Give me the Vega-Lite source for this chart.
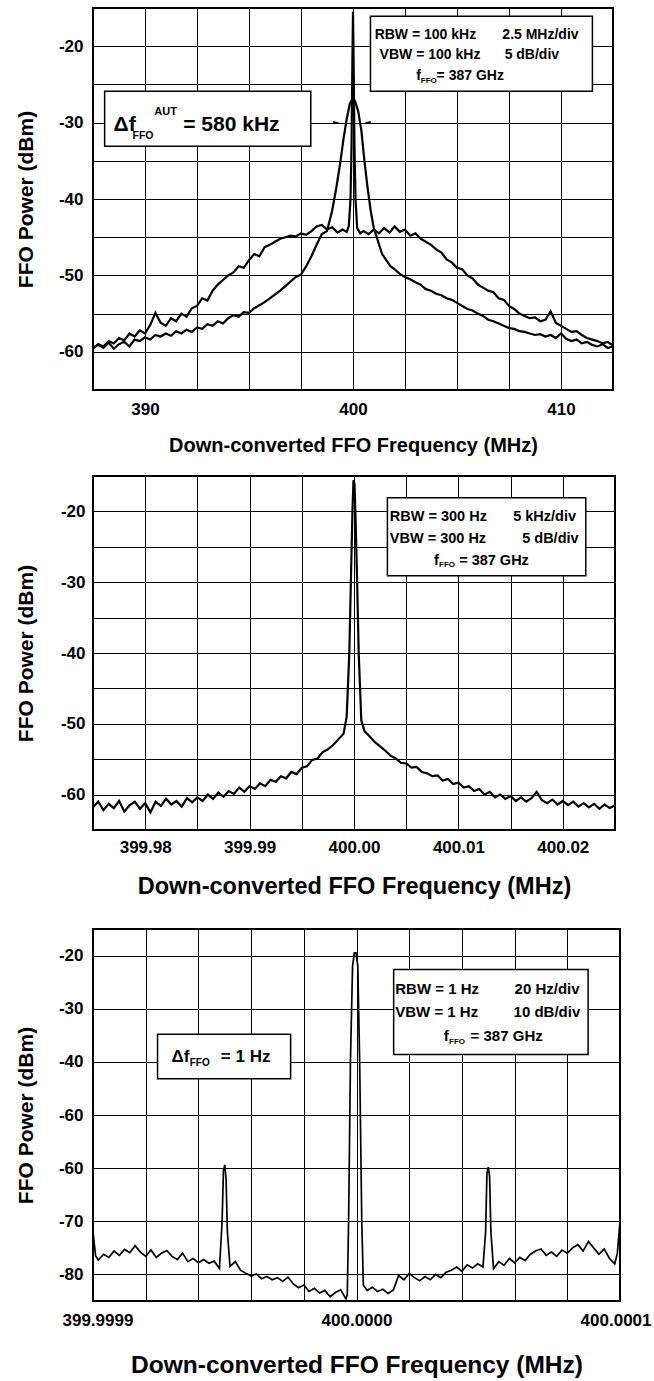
{
  "$schema": "https://vega.github.io/schema/vega-lite/v6.json",
  "background": "white",
  "padding": {"left": 14, "top": 7, "right": 0, "bottom": 0},
  "config": {
    "font": "Liberation Sans",
    "view": {"stroke": "black", "strokeWidth": 2},
    "axis": {"domain": false, "ticks": false, "grid": true, "gridColor": "#000", "gridOpacity": 1, "gridWidth": 1,
      "labelFont": "Liberation Sans", "labelFontWeight": "bold", "labelColor": "#000", "labelFontSize": 17,
      "titleFont": "Liberation Sans", "titleFontWeight": "bold", "titleColor": "#000"},
    "text": {"font": "Liberation Sans", "fontWeight": "bold", "color": "#000", "align": "left", "baseline": "alphabetic"}
  },
  "datasets": {
    "p1": [
      {"f": 387.5, "p": -59.6, "trace": "A"}, {"f": 387.75, "p": -59.0, "trace": "A"}, {"f": 388.0, "p": -59.3, "trace": "A"}, {"f": 388.25, "p": -58.6, "trace": "A"}, {"f": 388.5, "p": -58.9, "trace": "A"}, {"f": 388.75, "p": -58.2, "trace": "A"}, {"f": 389.0, "p": -58.5, "trace": "A"}, {"f": 389.25, "p": -57.6, "trace": "A"}, {"f": 389.5, "p": -58.0, "trace": "A"}, {"f": 389.75, "p": -57.2, "trace": "A"}, {"f": 390.0, "p": -57.6, "trace": "A"}, {"f": 390.25, "p": -56.5, "trace": "A"}, {"f": 390.5, "p": -54.9, "trace": "A"}, {"f": 390.75, "p": -56.2, "trace": "A"}, {"f": 391.0, "p": -56.6, "trace": "A"}, {"f": 391.25, "p": -55.6, "trace": "A"}, {"f": 391.5, "p": -56.0, "trace": "A"}, {"f": 391.75, "p": -55.0, "trace": "A"}, {"f": 392.0, "p": -55.4, "trace": "A"}, {"f": 392.25, "p": -54.3, "trace": "A"}, {"f": 392.5, "p": -54.0, "trace": "A"}, {"f": 392.75, "p": -53.0, "trace": "A"}, {"f": 393.0, "p": -53.3, "trace": "A"}, {"f": 393.25, "p": -52.0, "trace": "A"}, {"f": 393.5, "p": -51.2, "trace": "A"}, {"f": 393.75, "p": -50.6, "trace": "A"}, {"f": 394.0, "p": -50.0, "trace": "A"}, {"f": 394.25, "p": -49.6, "trace": "A"}, {"f": 394.5, "p": -48.8, "trace": "A"}, {"f": 394.75, "p": -49.0, "trace": "A"}, {"f": 395.0, "p": -48.0, "trace": "A"}, {"f": 395.25, "p": -47.2, "trace": "A"}, {"f": 395.5, "p": -47.5, "trace": "A"}, {"f": 395.75, "p": -46.3, "trace": "A"}, {"f": 396.0, "p": -46.0, "trace": "A"}, {"f": 396.25, "p": -45.6, "trace": "A"}, {"f": 396.5, "p": -45.2, "trace": "A"}, {"f": 396.75, "p": -45.0, "trace": "A"}, {"f": 397.0, "p": -44.8, "trace": "A"}, {"f": 397.25, "p": -44.9, "trace": "A"}, {"f": 397.5, "p": -44.5, "trace": "A"}, {"f": 397.75, "p": -44.7, "trace": "A"}, {"f": 398.0, "p": -44.2, "trace": "A"}, {"f": 398.25, "p": -43.6, "trace": "A"}, {"f": 398.5, "p": -43.4, "trace": "A"}, {"f": 398.75, "p": -44.0, "trace": "A"}, {"f": 399.0, "p": -43.7, "trace": "A"}, {"f": 399.25, "p": -44.4, "trace": "A"}, {"f": 399.5, "p": -44.0, "trace": "A"}, {"f": 399.7, "p": -44.3, "trace": "A"}, {"f": 399.8, "p": -43.5, "trace": "A"}, {"f": 399.88, "p": -40.0, "trace": "A"}, {"f": 399.93, "p": -33.0, "trace": "A"}, {"f": 399.97, "p": -22.0, "trace": "A"}, {"f": 400.0, "p": -15.5, "trace": "A"}, {"f": 400.03, "p": -22.0, "trace": "A"}, {"f": 400.07, "p": -33.0, "trace": "A"}, {"f": 400.12, "p": -40.0, "trace": "A"}, {"f": 400.2, "p": -43.8, "trace": "A"}, {"f": 400.35, "p": -44.5, "trace": "A"}, {"f": 400.5, "p": -44.2, "trace": "A"}, {"f": 400.75, "p": -44.6, "trace": "A"}, {"f": 401.0, "p": -44.0, "trace": "A"}, {"f": 401.25, "p": -44.5, "trace": "A"}, {"f": 401.5, "p": -43.8, "trace": "A"}, {"f": 401.75, "p": -44.4, "trace": "A"}, {"f": 402.0, "p": -43.6, "trace": "A"}, {"f": 402.25, "p": -44.3, "trace": "A"}, {"f": 402.5, "p": -44.0, "trace": "A"}, {"f": 402.75, "p": -44.8, "trace": "A"}, {"f": 403.0, "p": -44.5, "trace": "A"}, {"f": 403.25, "p": -45.2, "trace": "A"}, {"f": 403.5, "p": -45.6, "trace": "A"}, {"f": 403.75, "p": -46.0, "trace": "A"}, {"f": 404.0, "p": -46.6, "trace": "A"}, {"f": 404.25, "p": -47.0, "trace": "A"}, {"f": 404.5, "p": -47.9, "trace": "A"}, {"f": 404.75, "p": -48.3, "trace": "A"}, {"f": 405.0, "p": -49.0, "trace": "A"}, {"f": 405.25, "p": -49.2, "trace": "A"}, {"f": 405.5, "p": -50.0, "trace": "A"}, {"f": 405.75, "p": -50.4, "trace": "A"}, {"f": 406.0, "p": -51.2, "trace": "A"}, {"f": 406.25, "p": -51.6, "trace": "A"}, {"f": 406.5, "p": -52.0, "trace": "A"}, {"f": 406.75, "p": -52.2, "trace": "A"}, {"f": 407.0, "p": -53.0, "trace": "A"}, {"f": 407.25, "p": -53.2, "trace": "A"}, {"f": 407.5, "p": -54.0, "trace": "A"}, {"f": 407.75, "p": -54.4, "trace": "A"}, {"f": 408.0, "p": -55.0, "trace": "A"}, {"f": 408.25, "p": -55.3, "trace": "A"}, {"f": 408.5, "p": -55.6, "trace": "A"}, {"f": 408.75, "p": -55.5, "trace": "A"}, {"f": 409.0, "p": -56.0, "trace": "A"}, {"f": 409.25, "p": -55.8, "trace": "A"}, {"f": 409.5, "p": -54.7, "trace": "A"}, {"f": 409.75, "p": -56.2, "trace": "A"}, {"f": 410.0, "p": -56.6, "trace": "A"}, {"f": 410.25, "p": -57.0, "trace": "A"}, {"f": 410.5, "p": -57.4, "trace": "A"}, {"f": 410.75, "p": -57.3, "trace": "A"}, {"f": 411.0, "p": -57.8, "trace": "A"}, {"f": 411.25, "p": -58.2, "trace": "A"}, {"f": 411.5, "p": -58.4, "trace": "A"}, {"f": 411.75, "p": -58.6, "trace": "A"}, {"f": 412.0, "p": -58.9, "trace": "A"}, {"f": 412.25, "p": -58.7, "trace": "A"}, {"f": 412.5, "p": -59.2, "trace": "A"},
      {"f": 387.5, "p": -59.4, "trace": "B"}, {"f": 387.75, "p": -59.1, "trace": "B"}, {"f": 388.0, "p": -59.5, "trace": "B"}, {"f": 388.25, "p": -58.8, "trace": "B"}, {"f": 388.5, "p": -59.6, "trace": "B"}, {"f": 388.75, "p": -59.0, "trace": "B"}, {"f": 389.0, "p": -58.7, "trace": "B"}, {"f": 389.25, "p": -59.3, "trace": "B"}, {"f": 389.5, "p": -58.4, "trace": "B"}, {"f": 389.75, "p": -58.6, "trace": "B"}, {"f": 390.0, "p": -58.1, "trace": "B"}, {"f": 390.25, "p": -58.4, "trace": "B"}, {"f": 390.5, "p": -57.8, "trace": "B"}, {"f": 390.75, "p": -58.0, "trace": "B"}, {"f": 391.0, "p": -57.6, "trace": "B"}, {"f": 391.25, "p": -57.9, "trace": "B"}, {"f": 391.5, "p": -57.3, "trace": "B"}, {"f": 391.75, "p": -57.6, "trace": "B"}, {"f": 392.0, "p": -57.1, "trace": "B"}, {"f": 392.25, "p": -57.4, "trace": "B"}, {"f": 392.5, "p": -56.8, "trace": "B"}, {"f": 392.75, "p": -57.0, "trace": "B"}, {"f": 393.0, "p": -56.4, "trace": "B"}, {"f": 393.25, "p": -56.6, "trace": "B"}, {"f": 393.5, "p": -56.0, "trace": "B"}, {"f": 393.75, "p": -56.3, "trace": "B"}, {"f": 394.0, "p": -55.6, "trace": "B"}, {"f": 394.25, "p": -55.2, "trace": "B"}, {"f": 394.5, "p": -55.4, "trace": "B"}, {"f": 394.75, "p": -54.8, "trace": "B"}, {"f": 395.0, "p": -54.9, "trace": "B"}, {"f": 395.25, "p": -54.3, "trace": "B"}, {"f": 395.5, "p": -53.9, "trace": "B"}, {"f": 395.75, "p": -53.5, "trace": "B"}, {"f": 396.0, "p": -53.0, "trace": "B"}, {"f": 396.25, "p": -52.5, "trace": "B"}, {"f": 396.5, "p": -52.0, "trace": "B"}, {"f": 396.75, "p": -51.4, "trace": "B"}, {"f": 397.0, "p": -50.8, "trace": "B"}, {"f": 397.25, "p": -50.2, "trace": "B"}, {"f": 397.5, "p": -49.9, "trace": "B"}, {"f": 397.75, "p": -48.8, "trace": "B"}, {"f": 398.0, "p": -47.5, "trace": "B"}, {"f": 398.25, "p": -46.0, "trace": "B"}, {"f": 398.5, "p": -44.6, "trace": "B"}, {"f": 398.75, "p": -44.2, "trace": "B"}, {"f": 399.0, "p": -41.5, "trace": "B"}, {"f": 399.2, "p": -38.5, "trace": "B"}, {"f": 399.4, "p": -35.0, "trace": "B"}, {"f": 399.55, "p": -32.0, "trace": "B"}, {"f": 399.7, "p": -29.5, "trace": "B"}, {"f": 399.85, "p": -27.5, "trace": "B"}, {"f": 400.0, "p": -26.8, "trace": "B"}, {"f": 400.1, "p": -27.2, "trace": "B"}, {"f": 400.25, "p": -28.5, "trace": "B"}, {"f": 400.4, "p": -31.0, "trace": "B"}, {"f": 400.55, "p": -35.0, "trace": "B"}, {"f": 400.7, "p": -38.5, "trace": "B"}, {"f": 400.85, "p": -41.5, "trace": "B"}, {"f": 401.0, "p": -43.8, "trace": "B"}, {"f": 401.2, "p": -45.5, "trace": "B"}, {"f": 401.4, "p": -47.2, "trace": "B"}, {"f": 401.6, "p": -48.0, "trace": "B"}, {"f": 401.8, "p": -48.8, "trace": "B"}, {"f": 402.0, "p": -49.2, "trace": "B"}, {"f": 402.25, "p": -49.8, "trace": "B"}, {"f": 402.5, "p": -50.2, "trace": "B"}, {"f": 402.75, "p": -50.5, "trace": "B"}, {"f": 403.0, "p": -50.9, "trace": "B"}, {"f": 403.25, "p": -51.2, "trace": "B"}, {"f": 403.5, "p": -51.8, "trace": "B"}, {"f": 403.75, "p": -52.0, "trace": "B"}, {"f": 404.0, "p": -52.4, "trace": "B"}, {"f": 404.25, "p": -52.6, "trace": "B"}, {"f": 404.5, "p": -53.0, "trace": "B"}, {"f": 404.75, "p": -53.2, "trace": "B"}, {"f": 405.0, "p": -53.6, "trace": "B"}, {"f": 405.25, "p": -54.0, "trace": "B"}, {"f": 405.5, "p": -54.4, "trace": "B"}, {"f": 405.75, "p": -54.6, "trace": "B"}, {"f": 406.0, "p": -55.0, "trace": "B"}, {"f": 406.25, "p": -55.3, "trace": "B"}, {"f": 406.5, "p": -55.8, "trace": "B"}, {"f": 406.75, "p": -56.0, "trace": "B"}, {"f": 407.0, "p": -56.3, "trace": "B"}, {"f": 407.25, "p": -56.6, "trace": "B"}, {"f": 407.5, "p": -56.9, "trace": "B"}, {"f": 407.75, "p": -57.0, "trace": "B"}, {"f": 408.0, "p": -57.3, "trace": "B"}, {"f": 408.25, "p": -57.4, "trace": "B"}, {"f": 408.5, "p": -57.6, "trace": "B"}, {"f": 408.75, "p": -57.8, "trace": "B"}, {"f": 409.0, "p": -57.7, "trace": "B"}, {"f": 409.25, "p": -58.0, "trace": "B"}, {"f": 409.5, "p": -57.8, "trace": "B"}, {"f": 409.75, "p": -58.2, "trace": "B"}, {"f": 410.0, "p": -57.6, "trace": "B"}, {"f": 410.25, "p": -58.3, "trace": "B"}, {"f": 410.5, "p": -58.6, "trace": "B"}, {"f": 410.75, "p": -58.4, "trace": "B"}, {"f": 411.0, "p": -58.9, "trace": "B"}, {"f": 411.25, "p": -58.7, "trace": "B"}, {"f": 411.5, "p": -59.1, "trace": "B"}, {"f": 411.75, "p": -59.3, "trace": "B"}, {"f": 412.0, "p": -59.0, "trace": "B"}, {"f": 412.25, "p": -59.5, "trace": "B"}, {"f": 412.5, "p": -59.3, "trace": "B"}
    ],
    "p2": [
      {"f": 399.975, "p": -61.8}, {"f": 399.9755, "p": -61.0}, {"f": 399.976, "p": -62.2}, {"f": 399.9765, "p": -61.3}, {"f": 399.977, "p": -61.9}, {"f": 399.9775, "p": -60.9}, {"f": 399.978, "p": -62.4}, {"f": 399.9785, "p": -61.5}, {"f": 399.979, "p": -61.0}, {"f": 399.9795, "p": -62.0}, {"f": 399.98, "p": -61.2}, {"f": 399.9805, "p": -62.5}, {"f": 399.981, "p": -61.0}, {"f": 399.9815, "p": -61.6}, {"f": 399.982, "p": -60.6}, {"f": 399.9825, "p": -61.4}, {"f": 399.983, "p": -60.9}, {"f": 399.9835, "p": -61.7}, {"f": 399.984, "p": -60.5}, {"f": 399.9845, "p": -61.1}, {"f": 399.985, "p": -60.4}, {"f": 399.9855, "p": -60.9}, {"f": 399.986, "p": -60.0}, {"f": 399.9865, "p": -60.6}, {"f": 399.987, "p": -59.7}, {"f": 399.9875, "p": -60.3}, {"f": 399.988, "p": -59.5}, {"f": 399.9885, "p": -59.9}, {"f": 399.989, "p": -59.0}, {"f": 399.9895, "p": -59.6}, {"f": 399.99, "p": -58.8}, {"f": 399.9905, "p": -59.2}, {"f": 399.991, "p": -58.4}, {"f": 399.9915, "p": -58.8}, {"f": 399.992, "p": -57.9}, {"f": 399.9925, "p": -58.2}, {"f": 399.993, "p": -57.4}, {"f": 399.9935, "p": -57.7}, {"f": 399.994, "p": -56.8}, {"f": 399.9945, "p": -57.1}, {"f": 399.995, "p": -56.2}, {"f": 399.9955, "p": -56.0}, {"f": 399.996, "p": -55.1}, {"f": 399.9965, "p": -54.9}, {"f": 399.997, "p": -54.0}, {"f": 399.9975, "p": -53.6}, {"f": 399.998, "p": -53.0}, {"f": 399.9985, "p": -52.2}, {"f": 399.999, "p": -51.4}, {"f": 399.9993, "p": -49.0}, {"f": 399.99955, "p": -40.0}, {"f": 399.9997, "p": -30.0}, {"f": 399.99985, "p": -20.0}, {"f": 399.99995, "p": -15.6}, {"f": 400.00005, "p": -16.2}, {"f": 400.00015, "p": -21.0}, {"f": 400.0003, "p": -30.0}, {"f": 400.00045, "p": -40.0}, {"f": 400.0007, "p": -49.5}, {"f": 400.001, "p": -51.0}, {"f": 400.0015, "p": -51.8}, {"f": 400.002, "p": -52.6}, {"f": 400.0025, "p": -53.2}, {"f": 400.003, "p": -53.8}, {"f": 400.0035, "p": -54.5}, {"f": 400.004, "p": -54.9}, {"f": 400.0045, "p": -55.5}, {"f": 400.005, "p": -55.6}, {"f": 400.0055, "p": -56.2}, {"f": 400.006, "p": -56.1}, {"f": 400.0065, "p": -56.8}, {"f": 400.007, "p": -57.0}, {"f": 400.0075, "p": -57.4}, {"f": 400.008, "p": -57.3}, {"f": 400.0085, "p": -58.0}, {"f": 400.009, "p": -57.8}, {"f": 400.0095, "p": -58.5}, {"f": 400.01, "p": -58.3}, {"f": 400.0105, "p": -59.0}, {"f": 400.011, "p": -58.8}, {"f": 400.0115, "p": -59.5}, {"f": 400.012, "p": -59.2}, {"f": 400.0125, "p": -60.0}, {"f": 400.013, "p": -59.6}, {"f": 400.0135, "p": -60.4}, {"f": 400.014, "p": -60.0}, {"f": 400.0145, "p": -60.6}, {"f": 400.015, "p": -60.2}, {"f": 400.0155, "p": -60.9}, {"f": 400.016, "p": -60.4}, {"f": 400.0165, "p": -61.0}, {"f": 400.017, "p": -60.5}, {"f": 400.0175, "p": -59.6}, {"f": 400.018, "p": -60.8}, {"f": 400.0185, "p": -61.2}, {"f": 400.019, "p": -60.7}, {"f": 400.0195, "p": -61.4}, {"f": 400.02, "p": -60.9}, {"f": 400.0205, "p": -61.5}, {"f": 400.021, "p": -61.0}, {"f": 400.0215, "p": -61.7}, {"f": 400.022, "p": -61.2}, {"f": 400.0225, "p": -61.8}, {"f": 400.023, "p": -61.3}, {"f": 400.0235, "p": -62.0}, {"f": 400.024, "p": -61.4}, {"f": 400.0245, "p": -61.9}, {"f": 400.025, "p": -61.5}
    ],
    "p3": [
      {"f": 399.9999, "p": -72.0}, {"f": 399.999901, "p": -76.5}, {"f": 399.999902, "p": -77.3}, {"f": 399.999904, "p": -76.2}, {"f": 399.999906, "p": -76.8}, {"f": 399.999908, "p": -75.6}, {"f": 399.99991, "p": -76.4}, {"f": 399.999912, "p": -75.3}, {"f": 399.999914, "p": -75.9}, {"f": 399.999916, "p": -74.6}, {"f": 399.999918, "p": -75.8}, {"f": 399.99992, "p": -76.6}, {"f": 399.999922, "p": -75.4}, {"f": 399.999924, "p": -76.8}, {"f": 399.999926, "p": -76.0}, {"f": 399.999928, "p": -75.5}, {"f": 399.99993, "p": -76.6}, {"f": 399.999932, "p": -77.2}, {"f": 399.999934, "p": -76.0}, {"f": 399.999936, "p": -77.6}, {"f": 399.999938, "p": -77.0}, {"f": 399.99994, "p": -77.8}, {"f": 399.999942, "p": -77.2}, {"f": 399.999944, "p": -77.9}, {"f": 399.999946, "p": -77.5}, {"f": 399.999948, "p": -78.9}, {"f": 399.999949, "p": -70.0}, {"f": 399.9999495, "p": -60.5}, {"f": 399.99995, "p": -59.4}, {"f": 399.9999505, "p": -62.0}, {"f": 399.999951, "p": -72.0}, {"f": 399.999952, "p": -78.5}, {"f": 399.999954, "p": -77.6}, {"f": 399.999956, "p": -79.2}, {"f": 399.999958, "p": -79.8}, {"f": 399.99996, "p": -80.3}, {"f": 399.999962, "p": -79.9}, {"f": 399.999964, "p": -80.8}, {"f": 399.999966, "p": -80.4}, {"f": 399.999968, "p": -81.0}, {"f": 399.99997, "p": -80.6}, {"f": 399.999972, "p": -81.3}, {"f": 399.999974, "p": -80.5}, {"f": 399.999976, "p": -81.8}, {"f": 399.999978, "p": -82.5}, {"f": 399.99998, "p": -82.0}, {"f": 399.999982, "p": -83.2}, {"f": 399.999984, "p": -82.6}, {"f": 399.999986, "p": -83.5}, {"f": 399.999988, "p": -83.0}, {"f": 399.99999, "p": -84.2}, {"f": 399.999992, "p": -83.4}, {"f": 399.999994, "p": -82.9}, {"f": 399.999996, "p": -84.6}, {"f": 399.9999965, "p": -83.8}, {"f": 399.999997, "p": -70.0}, {"f": 399.9999977, "p": -40.0}, {"f": 399.9999985, "p": -22.0}, {"f": 399.9999992, "p": -19.5}, {"f": 399.9999998, "p": -19.5}, {"f": 400.0000005, "p": -22.0}, {"f": 400.0000012, "p": -40.0}, {"f": 400.000002, "p": -70.0}, {"f": 400.0000026, "p": -82.0}, {"f": 400.000004, "p": -83.0}, {"f": 400.000006, "p": -82.4}, {"f": 400.000008, "p": -83.2}, {"f": 400.00001, "p": -82.8}, {"f": 400.000012, "p": -83.6}, {"f": 400.000014, "p": -82.9}, {"f": 400.000016, "p": -80.2}, {"f": 400.000018, "p": -81.0}, {"f": 400.00002, "p": -79.8}, {"f": 400.000022, "p": -80.6}, {"f": 400.000024, "p": -81.2}, {"f": 400.000026, "p": -80.4}, {"f": 400.000028, "p": -81.0}, {"f": 400.00003, "p": -80.0}, {"f": 400.000032, "p": -80.6}, {"f": 400.000034, "p": -79.6}, {"f": 400.000036, "p": -79.2}, {"f": 400.000038, "p": -78.6}, {"f": 400.00004, "p": -79.4}, {"f": 400.000042, "p": -78.2}, {"f": 400.000044, "p": -78.8}, {"f": 400.000046, "p": -78.0}, {"f": 400.000048, "p": -78.6}, {"f": 400.000049, "p": -72.0}, {"f": 400.0000495, "p": -61.0}, {"f": 400.00005, "p": -59.8}, {"f": 400.0000505, "p": -61.5}, {"f": 400.000051, "p": -72.0}, {"f": 400.000052, "p": -78.9}, {"f": 400.000054, "p": -77.6}, {"f": 400.000056, "p": -78.3}, {"f": 400.000058, "p": -77.0}, {"f": 400.00006, "p": -77.8}, {"f": 400.000062, "p": -76.8}, {"f": 400.000064, "p": -77.4}, {"f": 400.000066, "p": -76.2}, {"f": 400.000068, "p": -75.6}, {"f": 400.00007, "p": -75.2}, {"f": 400.000072, "p": -76.4}, {"f": 400.000074, "p": -75.8}, {"f": 400.000076, "p": -76.6}, {"f": 400.000078, "p": -75.4}, {"f": 400.00008, "p": -76.0}, {"f": 400.000082, "p": -75.0}, {"f": 400.000084, "p": -74.4}, {"f": 400.000086, "p": -75.6}, {"f": 400.000088, "p": -73.8}, {"f": 400.00009, "p": -75.0}, {"f": 400.000092, "p": -76.2}, {"f": 400.000094, "p": -75.2}, {"f": 400.000096, "p": -77.0}, {"f": 400.000098, "p": -78.0}, {"f": 400.000099, "p": -76.0}, {"f": 400.0001, "p": -70.0}
    ]
  },
  "spacing": 29,
  "vconcat": [
    {
      "spacing": 19,
      "vconcat": [
        {
          "width": 520, "height": 382,
          "layer": [
            {"data": {"name": "p1"}, "mark": {"type": "line", "color": "#000", "strokeWidth": 2.2, "clip": true},
             "encoding": {
               "x": {"field": "f", "type": "quantitative", "title": "Down-converted FFO Frequency (MHz)",
                     "scale": {"domain": [387.5, 412.5], "nice": false, "zero": false},
                     "axis": {"values": [390, 392.5, 395, 397.5, 400, 402.5, 405, 407.5, 410], "format": ".0f",
                              "labelExpr": "indexof([390, 400, 410], datum.value) >= 0 ? datum.label : ''", "labelFlush": false,
                              "labelPadding": 11, "titleFontSize": 20, "titlePadding": 18}},
               "y": {"field": "p", "type": "quantitative", "title": "FFO Power (dBm)",
                     "scale": {"domain": [-65, -15], "nice": false, "zero": false},
                     "axis": {"values": [-60, -55, -50, -45, -40, -35, -30, -25, -20],
                              "labelExpr": "indexof([-20, -30, -40, -50, -60], datum.value) >= 0 ? '' + datum.value : ''",
                              "labelPadding": 10, "titleFontSize": 21, "titlePadding": 22}},
               "detail": {"field": "trace"}}},
            {"data": {"values": [{}]}, "mark": {"type": "rect", "fill": "white", "stroke": "#000", "strokeWidth": 1.5},
             "encoding": {"x": {"datum": 388.06}, "x2": {"datum": 397.97}, "y": {"datum": -25.9}, "y2": {"datum": -33.1}}},
            {"data": {"values": [{}]}, "mark": {"type": "text", "text": "Δf", "fontSize": 21},
             "encoding": {"x": {"datum": 388.49}, "y": {"datum": -31.1}}},
            {"data": {"values": [{}]}, "mark": {"type": "text", "text": "FFO", "fontSize": 10.5},
             "encoding": {"x": {"datum": 389.4}, "y": {"datum": -32.2}}},
            {"data": {"values": [{}]}, "mark": {"type": "text", "text": "AUT", "fontSize": 11},
             "encoding": {"x": {"datum": 390.45}, "y": {"datum": -29.0}}},
            {"data": {"values": [{}]}, "mark": {"type": "text", "text": "= 580 kHz", "fontSize": 21},
             "encoding": {"x": {"datum": 391.84}, "y": {"datum": -31.1}}},
            {"data": {"values": [{}]}, "mark": {"type": "point", "shape": "M-1,-0.5L1,0L-1,0.5Z", "filled": true, "color": "#000", "opacity": 1, "size": 40},
             "encoding": {"x": {"datum": 399.2}, "y": {"datum": -30}}},
            {"data": {"values": [{}]}, "mark": {"type": "point", "shape": "M1,-0.5L-1,0L1,0.5Z", "filled": true, "color": "#000", "opacity": 1, "size": 40},
             "encoding": {"x": {"datum": 400.7}, "y": {"datum": -30}}},
            {"data": {"values": [{}]}, "mark": {"type": "rect", "fill": "white", "stroke": "#000", "strokeWidth": 1.5},
             "encoding": {"x": {"datum": 400.84}, "x2": {"datum": 411.51}, "y": {"datum": -16.07}, "y2": {"datum": -25.9}}},
            {"data": {"values": [{}]}, "mark": {"type": "text", "text": "RBW = 100 kHz", "fontSize": 14},
             "encoding": {"x": {"datum": 401.04}, "y": {"datum": -19.03}}},
            {"data": {"values": [{}]}, "mark": {"type": "text", "text": "2.5 MHz/div", "fontSize": 14},
             "encoding": {"x": {"datum": 407.18}, "y": {"datum": -19.03}}},
            {"data": {"values": [{}]}, "mark": {"type": "text", "text": "VBW = 100 kHz", "fontSize": 14},
             "encoding": {"x": {"datum": 401.28}, "y": {"datum": -21.74}}},
            {"data": {"values": [{}]}, "mark": {"type": "text", "text": "5 dB/div", "fontSize": 14},
             "encoding": {"x": {"datum": 407.29}, "y": {"datum": -21.74}}},
            {"data": {"values": [{}]}, "mark": {"type": "text", "text": "f", "fontSize": 14},
             "encoding": {"x": {"datum": 403.04}, "y": {"datum": -24.36}}},
            {"data": {"values": [{}]}, "mark": {"type": "text", "text": "FFO", "fontSize": 8},
             "encoding": {"x": {"datum": 403.26}, "y": {"datum": -24.76}}},
            {"data": {"values": [{}]}, "mark": {"type": "text", "text": "= 387 GHz", "fontSize": 14},
             "encoding": {"x": {"datum": 404.02}, "y": {"datum": -24.36}}}
          ]
        },
        {
          "width": 522, "height": 354,
          "layer": [
            {"data": {"name": "p2"}, "mark": {"type": "line", "color": "#000", "strokeWidth": 2.2, "clip": true},
             "encoding": {
               "x": {"field": "f", "type": "quantitative", "title": "Down-converted FFO Frequency (MHz)",
                     "scale": {"domain": [399.975, 400.025], "nice": false, "zero": false},
                     "axis": {"values": [399.98, 399.985, 399.99, 399.995, 400, 400.005, 400.01, 400.015, 400.02], "format": ".2f",
                              "labelExpr": "indexof([399.98, 399.99, 400, 400.01, 400.02], datum.value) >= 0 ? datum.label : ''", "labelFlush": false,
                              "labelPadding": 9, "titleFontSize": 23.5, "titlePadding": 19}},
               "y": {"field": "p", "type": "quantitative", "title": "FFO Power (dBm)",
                     "scale": {"domain": [-65, -15], "nice": false, "zero": false},
                     "axis": {"values": [-60, -55, -50, -45, -40, -35, -30, -25, -20],
                              "labelExpr": "indexof([-20, -30, -40, -50, -60], datum.value) >= 0 ? '' + datum.value : ''",
                              "labelPadding": 8, "titleFontSize": 21, "titlePadding": 24}}}},
            {"data": {"values": [{}]}, "mark": {"type": "rect", "fill": "white", "stroke": "#000", "strokeWidth": 1.5},
             "encoding": {"x": {"datum": 400.0032}, "x2": {"datum": 400.0222}, "y": {"datum": -18.07}, "y2": {"datum": -29.1}}},
            {"data": {"values": [{}]}, "mark": {"type": "text", "text": "RBW = 300 Hz", "fontSize": 14.5},
             "encoding": {"x": {"datum": 400.00343}, "y": {"datum": -21.4}}},
            {"data": {"values": [{}]}, "mark": {"type": "text", "text": "5 kHz/div", "fontSize": 14.5},
             "encoding": {"x": {"datum": 400.01525}, "y": {"datum": -21.4}}},
            {"data": {"values": [{}]}, "mark": {"type": "text", "text": "VBW = 300 Hz", "fontSize": 14.5},
             "encoding": {"x": {"datum": 400.00343}, "y": {"datum": -24.4}}},
            {"data": {"values": [{}]}, "mark": {"type": "text", "text": "5 dB/div", "fontSize": 14.5},
             "encoding": {"x": {"datum": 400.01611}, "y": {"datum": -24.4}}},
            {"data": {"values": [{}]}, "mark": {"type": "text", "text": "f", "fontSize": 14.5},
             "encoding": {"x": {"datum": 400.00767}, "y": {"datum": -27.5}}},
            {"data": {"values": [{}]}, "mark": {"type": "text", "text": "FFO", "fontSize": 8},
             "encoding": {"x": {"datum": 400.00815}, "y": {"datum": -27.92}}},
            {"data": {"values": [{}]}, "mark": {"type": "text", "text": "= 387 GHz", "fontSize": 14.5},
             "encoding": {"x": {"datum": 400.01007}, "y": {"datum": -27.5}}}
          ]
        }
      ]
    },
    {
      "width": 527, "height": 372,
      "layer": [
        {"data": {"name": "p3"}, "mark": {"type": "line", "color": "#000", "strokeWidth": 1.7, "clip": true},
         "encoding": {
           "x": {"field": "f", "type": "quantitative", "title": "Down-converted FFO Frequency (MHz)",
                 "scale": {"domain": [399.9999, 400.0001], "nice": false, "zero": false},
                 "axis": {"values": [399.9999, 399.99992, 399.99994, 399.99996, 399.99998, 400, 400.00002, 400.00004, 400.00006, 400.00008, 400.0001], "format": ".4f",
                          "labelExpr": "indexof([399.9999, 400, 400.0001], datum.value) >= 0 ? datum.label : ''", "labelFlush": true, "labelFlushOffset": 31,
                          "labelPadding": 11, "titleFontSize": 24.5, "titlePadding": 25}},
           "y": {"field": "p", "type": "quantitative", "title": "FFO Power (dBm)",
                 "scale": {"domain": [-85, -15], "nice": false, "zero": false},
                 "axis": {"values": [-80, -70, -60, -50, -40, -30, -20],
                          "labelExpr": "datum.value === -50 ? '-60' : '' + datum.value",
                          "labelPadding": 10, "titleFontSize": 21, "titlePadding": 22}}}},
        {"data": {"values": [{}]}, "mark": {"type": "rect", "fill": "white", "stroke": "#000", "strokeWidth": 1.5},
         "encoding": {"x": {"datum": 400.0000141}, "x2": {"datum": 400.0000879}, "y": {"datum": -22.6}, "y2": {"datum": -38.6}}},
        {"data": {"values": [{}]}, "mark": {"type": "text", "text": "RBW = 1 Hz", "fontSize": 15},
         "encoding": {"x": {"datum": 400.0000147}, "y": {"datum": -27.2}}},
        {"data": {"values": [{}]}, "mark": {"type": "text", "text": "20 Hz/div", "fontSize": 15},
         "encoding": {"x": {"datum": 400.00006}, "y": {"datum": -27.2}}},
        {"data": {"values": [{}]}, "mark": {"type": "text", "text": "VBW = 1 Hz", "fontSize": 15},
         "encoding": {"x": {"datum": 400.0000147}, "y": {"datum": -31.5}}},
        {"data": {"values": [{}]}, "mark": {"type": "text", "text": "10 dB/div", "fontSize": 15},
         "encoding": {"x": {"datum": 400.0000596}, "y": {"datum": -31.5}}},
        {"data": {"values": [{}]}, "mark": {"type": "text", "text": "f", "fontSize": 15},
         "encoding": {"x": {"datum": 400.0000331}, "y": {"datum": -36.0}}},
        {"data": {"values": [{}]}, "mark": {"type": "text", "text": "FFO", "fontSize": 8},
         "encoding": {"x": {"datum": 400.0000351}, "y": {"datum": -36.6}}},
        {"data": {"values": [{}]}, "mark": {"type": "text", "text": "= 387 GHz", "fontSize": 15},
         "encoding": {"x": {"datum": 400.0000433}, "y": {"datum": -36.0}}},
        {"data": {"values": [{}]}, "mark": {"type": "rect", "fill": "white", "stroke": "#000", "strokeWidth": 1.5},
         "encoding": {"x": {"datum": 399.9999245}, "x2": {"datum": 399.999975}, "y": {"datum": -34.8}, "y2": {"datum": -43.2}}},
        {"data": {"values": [{}]}, "mark": {"type": "text", "text": "Δf", "fontSize": 17},
         "encoding": {"x": {"datum": 399.9999298}, "y": {"datum": -40.1}}},
        {"data": {"values": [{}]}, "mark": {"type": "text", "text": "FFO", "fontSize": 10},
         "encoding": {"x": {"datum": 399.9999367}, "y": {"datum": -40.7}}},
        {"data": {"values": [{}]}, "mark": {"type": "text", "text": "= 1 Hz", "fontSize": 17},
         "encoding": {"x": {"datum": 399.9999485}, "y": {"datum": -40.1}}}
      ]
    }
  ]
}
